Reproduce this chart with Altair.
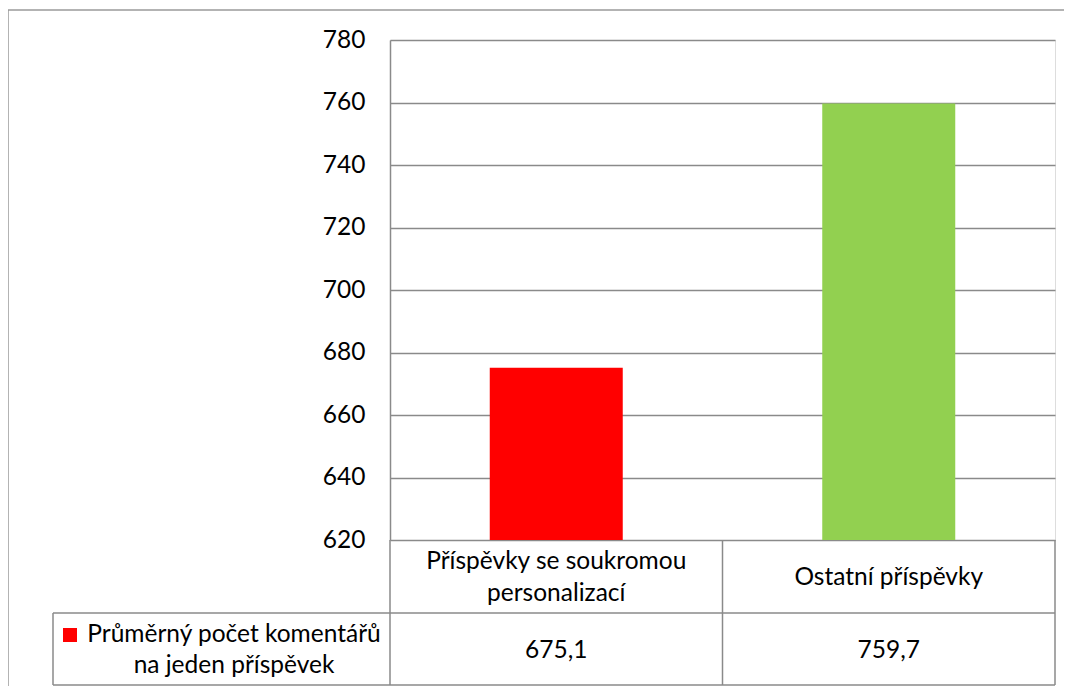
import altair as alt
import pandas as pd

# ---- data ----
categories = ["Příspěvky se soukromou personalizací", "Ostatní příspěvky"]
cat_labels = ["Příspěvky se soukromou\npersonalizací", "Ostatní příspěvky"]
values = [675.1, 759.7]
value_labels = ["675,1", "759,7"]
colors = ["#FF0000", "#92D050"]
series_name = "Průměrný počet komentářů\nna jeden příspěvek"
y_ticks = [620, 640, 660, 680, 700, 720, 740, 760, 780]

df = pd.DataFrame({"cat": categories, "label": cat_labels,
                   "value": values, "vlabel": value_labels})
one = pd.DataFrame({"name": [series_name]})

FONT = "Lato"
FS = 24.5
GRID = "#8a8a8a"
W, H = 665, 500

xenc = alt.X("cat:N", sort=categories, axis=None,
             scale=alt.Scale(paddingInner=0.6, paddingOuter=0.3))

bars = alt.Chart(df).mark_bar().encode(
    x=xenc,
    y=alt.Y("value:Q",
            scale=alt.Scale(domain=[620, 780], zero=False, nice=False),
            axis=alt.Axis(values=y_ticks, grid=True, gridColor=GRID, gridWidth=1.5,
                          domainColor=GRID, domainWidth=1.5, ticks=False,
                          labelFont=FONT, labelFontSize=FS, labelColor="black",
                          labelPadding=25, title=None)),
    y2=alt.datum(620),
    color=alt.Color("cat:N", scale=alt.Scale(domain=categories, range=colors), legend=None),
)

cat_text = alt.Chart(df).transform_calculate(
    n="length(split(datum.label, '\\n'))",
    ty="538 - (datum.n - 1) * 16",
).mark_text(font=FONT, fontSize=FS, lineBreak="\n", lineHeight=32,
            baseline="middle", color="black").encode(
    x=xenc, y=alt.Y("ty:Q", scale=None), text="label:N")

val_text = alt.Chart(df).mark_text(font=FONT, fontSize=FS, baseline="middle",
                                   color="black").encode(
    x=xenc, y=alt.value(611), text="vlabel:N")

legend_sq = alt.Chart(one).mark_square(size=196, color="#FF0000", opacity=1).encode(
    x=alt.value(-320), y=alt.value(595))

legend_text = alt.Chart(one).mark_text(font=FONT, fontSize=FS, lineBreak="\n", lineHeight=31,
                                       baseline="middle", align="center", color="black").encode(
    x=alt.value(-156), y=alt.value(595), text="name:N")

def hline(x1, x2, y):
    return alt.Chart(one).mark_rule(color=GRID, strokeWidth=1.5).encode(
        x=alt.value(x1), x2=alt.value(x2), y=alt.value(y))

def vline(x, y1, y2):
    return alt.Chart(one).mark_rule(color=GRID, strokeWidth=1.5).encode(
        x=alt.value(x), y=alt.value(y1), y2=alt.value(y2))

lines = [
    hline(-337, W, 573),
    hline(-337, W, 645),
    vline(-337, 573, 645),
    vline(0, 500, 645),
    vline(W / 2, 500, 645),
    vline(W, 500, 645),
]

frame = alt.Chart(one).mark_rect(fill="white", fillOpacity=0, stroke="#9a9a9a",
                                 strokeWidth=1.5).encode(
    x=alt.value(-382), x2=alt.value(720), y=alt.value(-30), y2=alt.value(720))

chart = alt.layer(frame, bars, *lines, cat_text, val_text, legend_sq, legend_text).properties(
    width=W, height=H,
    autosize=alt.AutoSizeParams(type="none"),
    padding={"left": 382, "top": 32, "right": 9, "bottom": 146},
).configure_view(stroke=None).configure(background="white")

chart.save("out.html", embed_options={"renderer": "svg", "actions": False})
